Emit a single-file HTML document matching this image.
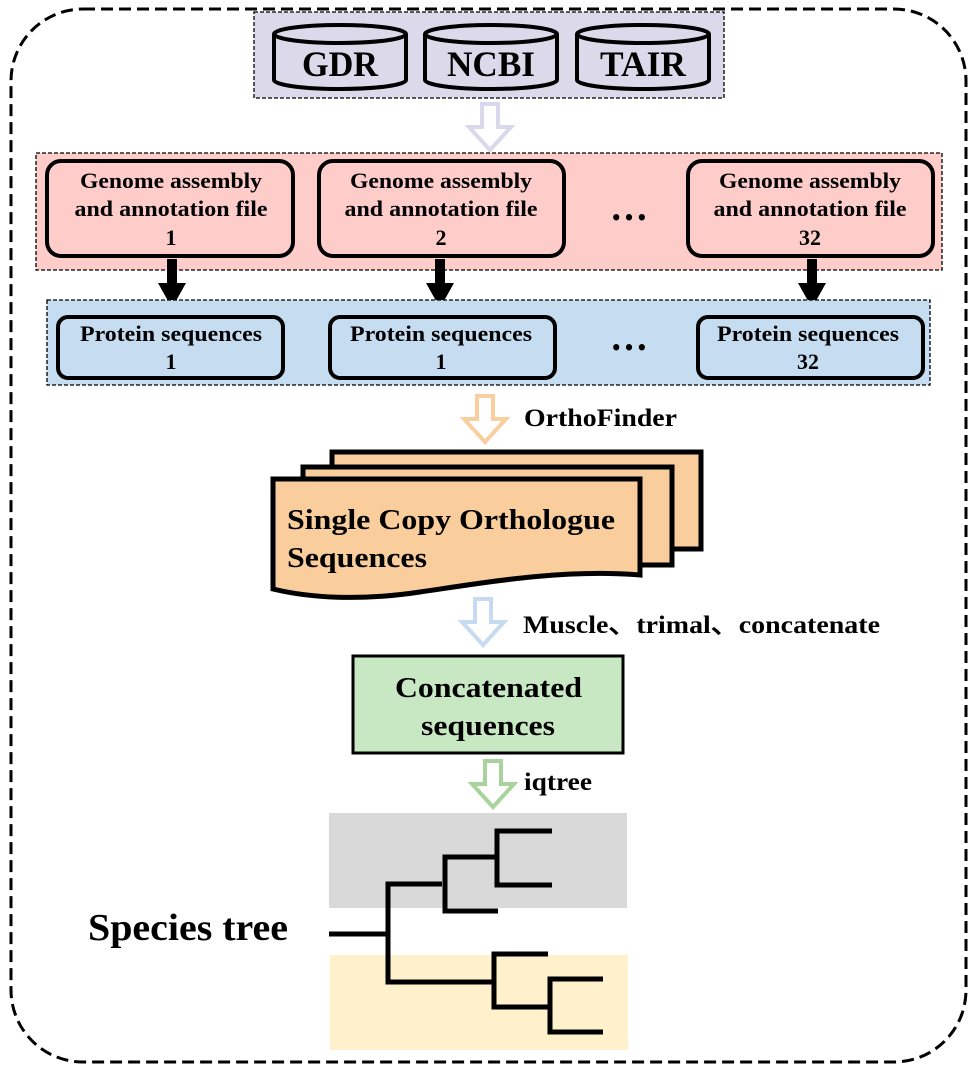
<!DOCTYPE html>
<html><head><meta charset="utf-8"><style>
html,body{margin:0;padding:0;background:#fff}
svg{display:block}
text{font-family:"Liberation Serif",serif;font-weight:bold;fill:#000}
</style></head><body>
<svg width="977" height="1069" viewBox="0 0 977 1069" xmlns="http://www.w3.org/2000/svg">
<rect x="11" y="9" width="955" height="1053" rx="72" fill="none" stroke="#000" stroke-width="3" stroke-dasharray="12,6"/>
<!-- databases -->
<rect x="254" y="12" width="470" height="86" fill="#dcdaea" stroke="#000" stroke-width="1.3" stroke-dasharray="4,2"/>
<g fill="none" stroke="#000" stroke-width="4">
<path d="M274 34 V80 A66 9 0 0 0 406 80 V34"/><ellipse cx="340" cy="34" rx="66" ry="9"/>
<path d="M425 34 V80 A66 9 0 0 0 557 80 V34"/><ellipse cx="491" cy="34" rx="66" ry="9"/>
<path d="M577 34 V80 A66 9 0 0 0 709 80 V34"/><ellipse cx="643" cy="34" rx="66" ry="9"/>
</g>
<text x="302" y="76" font-size="36" textLength="76" lengthAdjust="spacingAndGlyphs">GDR</text>
<text x="447" y="76" font-size="36" textLength="88" lengthAdjust="spacingAndGlyphs">NCBI</text>
<text x="600" y="76" font-size="36" textLength="86" lengthAdjust="spacingAndGlyphs">TAIR</text>
<!-- hollow arrows -->
<g fill="#fff" stroke-width="4">
<path d="M482 104 H498 V127 H511 L490 150 L469 127 H482 Z" stroke="#d9d8ec"/>
<path d="M477 396 H493 V419 H506 L485 442 L464 419 H477 Z" stroke="#f9cf9f"/>
<path d="M475 599 H491 V622 H504 L483 645 L462 622 H475 Z" stroke="#c6dbf0"/>
<path d="M485 761 H501 V784 H514 L493 807 L472 784 H485 Z" stroke="#a9d39c"/>
</g>
<!-- genome -->
<rect x="36" y="153" width="906" height="117" fill="#fecdca" stroke="#000" stroke-width="1.3" stroke-dasharray="4,2"/>
<g fill="#fecdca" stroke="#000" stroke-width="4">
<rect x="47" y="161" width="246" height="95" rx="14"/>
<rect x="319" y="161" width="245" height="95" rx="14"/>
<rect x="688" y="161" width="245" height="95" rx="14"/>
</g>
<g font-size="22" text-anchor="middle">
<text x="171" y="188" textLength="182" lengthAdjust="spacingAndGlyphs">Genome assembly</text><text x="171" y="216" textLength="193" lengthAdjust="spacingAndGlyphs">and annotation file</text><text x="171" y="245">1</text>
<text x="441" y="188" textLength="182" lengthAdjust="spacingAndGlyphs">Genome assembly</text><text x="441" y="216" textLength="193" lengthAdjust="spacingAndGlyphs">and annotation file</text><text x="441" y="245">2</text>
<text x="810" y="188" textLength="182" lengthAdjust="spacingAndGlyphs">Genome assembly</text><text x="810" y="216" textLength="193" lengthAdjust="spacingAndGlyphs">and annotation file</text><text x="810" y="245">32</text>
</g>
<text x="610" y="220" font-size="40" textLength="38" lengthAdjust="spacingAndGlyphs">…</text>
<!-- black arrows -->
<g fill="#000">
<path d="M167 259 H177 V283 H186 L172 308 L158 283 H167 Z"/>
<path d="M435 259 H445 V283 H454 L440 308 L426 283 H435 Z"/>
<path d="M807 259 H817 V283 H826 L812 308 L798 283 H807 Z"/>
</g>
<!-- proteins -->
<rect x="47" y="300" width="883" height="85" fill="#c6dcf0" stroke="#000" stroke-width="1.3" stroke-dasharray="4,2"/>
<g fill="#c6dcf0" stroke="#000" stroke-width="4">
<rect x="58" y="317" width="225" height="61" rx="10"/>
<rect x="330" y="317" width="225" height="61" rx="10"/>
<rect x="698" y="317" width="225" height="61" rx="10"/>
</g>
<g font-size="22" text-anchor="middle">
<text x="171" y="341" textLength="182" lengthAdjust="spacingAndGlyphs">Protein sequences</text><text x="171" y="369">1</text>
<text x="441" y="341" textLength="182" lengthAdjust="spacingAndGlyphs">Protein sequences</text><text x="441" y="369">1</text>
<text x="808" y="341" textLength="182" lengthAdjust="spacingAndGlyphs">Protein sequences</text><text x="808" y="369">32</text>
</g>
<text x="610" y="350" font-size="40" textLength="38" lengthAdjust="spacingAndGlyphs">…</text>
<text x="524" y="426" font-size="25" textLength="153" lengthAdjust="spacingAndGlyphs">OrthoFinder</text>
<!-- documents -->
<g fill="#f9cd9c" stroke="#000" stroke-width="5">
<path d="M332 452 H701 V549 H332 Z"/>
<path d="M303 467 H672 V565 H303 Z"/>
<path d="M273 479 H640 V575 C560 568 470 585 420 592 C360 601 310 598 273 589 Z"/>
</g>
<text x="287" y="529" font-size="29" textLength="328" lengthAdjust="spacingAndGlyphs">Single Copy Orthologue</text>
<text x="287" y="567" font-size="29" textLength="140" lengthAdjust="spacingAndGlyphs">Sequences</text>
<text x="523" y="633" font-size="25" textLength="357" lengthAdjust="spacingAndGlyphs">Muscle、trimal、concatenate</text>
<rect x="353" y="656" width="270" height="97" fill="#c8e8c4" stroke="#000" stroke-width="3"/>
<text x="395" y="697" font-size="28" textLength="187" lengthAdjust="spacingAndGlyphs">Concatenated</text>
<text x="421" y="735" font-size="28" textLength="134" lengthAdjust="spacingAndGlyphs">sequences</text>
<text x="524" y="790" font-size="25" textLength="68" lengthAdjust="spacingAndGlyphs">iqtree</text>
<!-- tree -->
<rect x="329" y="813" width="298" height="95" fill="#d9d9d9"/>
<rect x="330" y="955" width="298" height="95" fill="#fff1cc"/>
<g fill="none" stroke="#000" stroke-width="5">
<path d="M329 934 H388"/>
<path d="M442 884 H388 V982 H494"/>
<path d="M552 831 H497 V885 H552"/>
<path d="M497 857 H445 V911 H498"/>
<path d="M548 954 H494 V1007 H550"/>
<path d="M603 979 H550 V1032 H603"/>
</g>
<text x="88" y="940" font-size="38" textLength="200" lengthAdjust="spacingAndGlyphs">Species tree</text>
</svg>
</body></html>
